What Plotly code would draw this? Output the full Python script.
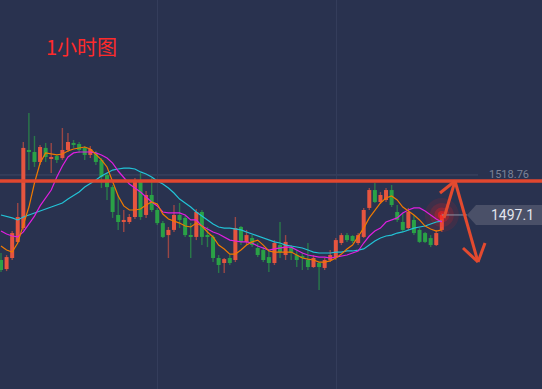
import plotly.graph_objects as go

# ---------------- data ----------------
opens = [1472.7, 1467.8, 1473.8, 1482.5, 1490.0, 1532.3, 1531.2, 1525.8, 1533.4, 1527.9,
         1529.0, 1527.9, 1532.3, 1536.1, 1535.5, 1533.4, 1529.6, 1530.7, 1526.9, 1518.7,
         1512.2, 1497.1, 1493.8, 1493.3, 1496.0, 1516.0, 1497.1, 1507.9, 1499.8, 1492.7,
         1486.2, 1489.0, 1497.1, 1495.5, 1486.2, 1485.2, 1498.7, 1486.2, 1485.2, 1473.8,
         1471.1, 1473.8, 1472.7, 1490.6, 1482.5, 1484.6, 1479.2, 1478.1, 1474.3, 1471.1,
         1480.8, 1475.4, 1479.7, 1475.4, 1474.3, 1472.7, 1468.9, 1471.1, 1468.4, 1472.7,
         1474.3, 1481.9, 1486.2, 1485.7, 1481.9, 1485.2, 1500.9, 1510.6, 1504.1, 1505.2,
         1510.6, 1498.7, 1493.3, 1490.0, 1494.4, 1489.0, 1487.3, 1484.6, 1480.8, 1489.0]
highs = [1476.5, 1475.4, 1488.4, 1503.6, 1536.6, 1552.3, 1539.9, 1535.0, 1536.1, 1536.1,
         1529.6, 1544.2, 1541.5, 1537.7, 1536.6, 1534.4, 1534.4, 1531.7, 1527.9, 1519.8,
         1513.3, 1507.9, 1499.8, 1497.6, 1517.1, 1519.8, 1510.1, 1517.1, 1500.9, 1493.8,
         1490.6, 1502.5, 1503.6, 1496.5, 1492.7, 1500.3, 1499.8, 1490.6, 1486.2, 1475.4,
         1473.8, 1475.4, 1496.0, 1491.1, 1489.0, 1486.2, 1481.9, 1479.7, 1478.1, 1483.5,
         1493.3, 1486.2, 1480.8, 1478.1, 1477.0, 1481.9, 1475.4, 1471.6, 1473.8, 1478.1,
         1484.6, 1487.3, 1487.3, 1486.2, 1487.3, 1500.9, 1511.7, 1514.4, 1509.5, 1511.7,
         1513.3, 1502.5, 1498.2, 1500.9, 1497.1, 1490.0, 1487.9, 1486.2, 1489.0, 1498.2]
lows = [1466.2, 1466.7, 1472.7, 1481.9, 1489.0, 1521.4, 1523.1, 1524.2, 1525.8, 1519.8,
        1525.2, 1526.9, 1531.2, 1533.4, 1530.7, 1526.9, 1527.9, 1524.2, 1511.7, 1505.2,
        1495.5, 1489.0, 1487.9, 1492.2, 1494.9, 1494.4, 1495.5, 1498.7, 1491.7, 1484.6,
        1473.8, 1487.9, 1490.0, 1485.2, 1473.8, 1483.5, 1480.8, 1479.7, 1471.6, 1465.7,
        1465.7, 1470.0, 1471.6, 1480.8, 1480.8, 1479.7, 1474.3, 1471.6, 1466.2, 1470.0,
        1473.8, 1472.7, 1472.7, 1468.9, 1467.3, 1467.3, 1468.4, 1456.5, 1467.3, 1471.6,
        1472.7, 1480.8, 1482.5, 1481.9, 1480.8, 1484.6, 1499.8, 1503.6, 1503.0, 1504.1,
        1501.4, 1493.3, 1487.9, 1489.0, 1486.2, 1481.9, 1481.9, 1479.7, 1480.3, 1487.9]
closes = [1467.3, 1474.3, 1487.3, 1496.0, 1533.4, 1531.2, 1525.8, 1533.9, 1528.5, 1528.5,
          1526.9, 1532.3, 1536.6, 1535.0, 1532.3, 1529.6, 1532.8, 1525.8, 1517.7, 1512.2,
          1498.7, 1493.3, 1494.4, 1496.0, 1516.0, 1496.0, 1507.9, 1499.8, 1492.7, 1485.2,
          1489.0, 1497.1, 1494.4, 1486.2, 1485.2, 1498.7, 1485.2, 1485.2, 1473.8, 1470.0,
          1473.2, 1471.1, 1490.0, 1482.5, 1486.2, 1480.8, 1475.4, 1472.7, 1471.1, 1481.9,
          1477.0, 1482.5, 1476.5, 1472.7, 1473.8, 1468.9, 1473.8, 1468.9, 1472.7, 1475.4,
          1483.5, 1486.2, 1483.5, 1483.0, 1486.2, 1499.8, 1510.6, 1504.1, 1507.9, 1510.6,
          1502.5, 1494.4, 1489.0, 1498.7, 1487.3, 1482.5, 1482.5, 1480.8, 1487.3, 1497.1]

ma_fast = [1480.3, 1478.1, 1477.0, 1481.9, 1491.7, 1501.4, 1514.4, 1525.2, 1530.7, 1530.1,
           1529.6, 1530.1, 1531.7, 1532.8, 1533.4, 1533.9, 1532.8, 1530.1, 1526.9, 1523.1,
           1515.0, 1507.4, 1502.0, 1499.8, 1499.8, 1500.3, 1502.5, 1504.1, 1503.0, 1497.6,
           1494.9, 1493.8, 1492.7, 1491.1, 1490.6, 1492.7, 1491.1, 1487.9, 1485.2, 1480.8,
           1478.7, 1475.9, 1475.9, 1478.1, 1480.8, 1482.5, 1483.5, 1480.8, 1477.6, 1477.0,
           1477.0, 1477.0, 1477.0, 1475.4, 1473.8, 1473.2, 1472.7, 1471.6, 1471.6, 1472.2,
           1473.8, 1475.9, 1478.7, 1480.8, 1485.2, 1490.0, 1495.5, 1499.8, 1503.6, 1506.3,
           1507.4, 1505.2, 1501.4, 1499.2, 1497.1, 1494.4, 1491.1, 1489.5, 1488.4, 1489.0]
ma_mid = [1488.4, 1486.8, 1485.7, 1485.2, 1487.9, 1492.2, 1496.5, 1502.0, 1506.3, 1510.6,
          1517.7, 1523.6, 1528.5, 1530.7, 1531.2, 1531.2, 1531.2, 1530.7, 1529.6, 1527.9,
          1525.2, 1520.9, 1517.1, 1513.9, 1511.7, 1509.5, 1506.8, 1504.1, 1502.0, 1498.7,
          1498.2, 1498.2, 1498.2, 1497.1, 1494.4, 1494.4, 1491.1, 1489.5, 1487.9, 1486.8,
          1485.2, 1483.5, 1483.0, 1482.5, 1482.5, 1481.9, 1480.3, 1479.2, 1478.1, 1478.7,
          1479.2, 1479.7, 1479.7, 1478.1, 1476.5, 1475.4, 1474.9, 1474.3, 1474.3, 1473.8,
          1474.3, 1474.9, 1475.4, 1476.5, 1477.6, 1481.9, 1485.7, 1488.4, 1490.0, 1493.3,
          1494.4, 1495.5, 1498.2, 1499.8, 1500.9, 1500.9, 1499.2, 1497.1, 1494.9, 1493.3]
ma_slow = [1497.1, 1496.5, 1495.5, 1494.4, 1496.0, 1497.1, 1498.2, 1499.2, 1500.3, 1501.4,
           1502.5, 1503.6, 1505.7, 1507.4, 1509.5, 1512.2, 1513.9, 1516.0, 1518.2, 1519.8,
           1521.4, 1522.0, 1522.5, 1522.5, 1522.0, 1520.4, 1519.3, 1517.7, 1515.5, 1513.9,
           1511.7, 1509.0, 1505.7, 1503.6, 1501.4, 1498.7, 1496.5, 1494.4, 1492.2, 1490.6,
           1490.0, 1490.0, 1489.5, 1489.0, 1487.9, 1486.8, 1485.7, 1484.6, 1483.5, 1482.5,
           1481.9, 1480.8, 1480.3, 1479.7, 1479.2, 1478.1, 1477.0, 1476.5, 1476.5, 1476.5,
           1477.0, 1477.0, 1477.6, 1477.6, 1478.1, 1478.7, 1480.8, 1483.0, 1484.6, 1485.7,
           1486.2, 1487.3, 1487.9, 1489.0, 1490.0, 1490.6, 1491.1, 1492.2, 1493.3, 1493.8]

level_label = 1518.76      # grey level shown at right
resistance = 1515.5        # thick red drawn line
title_text = "1小时图"

# ---------------- styling / layout ----------------
W, H = 542, 389
BG = "#29324f"
RED, GREEN = "#e6553f", "#2aa146"
RED_W, GREEN_W = "rgba(230,85,63,0.6)", "rgba(42,161,70,0.65)"
X_RANGE = [-0.18, 96.95]
Y_RANGE = [1402.86, 1613.5]
GRID_X = [27.96, 60.2]


def px(x):
    return x / W


def py(y):
    return 1 - y / H


idx = list(range(len(opens)))
up = [c >= o for o, c in zip(opens, closes)]

fig = go.Figure()
fig.add_trace(go.Bar(
    x=idx, y=[h - l for h, l in zip(highs, lows)], base=lows, width=0.25,
    marker=dict(color=[RED_W if u else GREEN_W for u in up], line=dict(width=0)),
    hoverinfo="skip"))
fig.add_trace(go.Bar(
    x=idx, y=[max(abs(c - o), 0.6) for o, c in zip(opens, closes)],
    base=[min(o, c) for o, c in zip(opens, closes)], width=0.72,
    marker=dict(color=[RED if u else GREEN for u in up], line=dict(width=0)),
    hoverinfo="skip"))

# glow at last price
for s, a in [(34, 0.10), (24, 0.16), (15, 0.28), (8, 0.5)]:
    fig.add_trace(go.Scatter(x=[idx[-1]], y=[closes[-1]], mode="markers",
                             marker=dict(size=s, color=f"rgba(255,30,30,{a})", line=dict(width=0)),
                             hoverinfo="skip"))

fig.add_trace(go.Scatter(x=idx, y=ma_slow, mode="lines", line=dict(color="#22c3d6", width=1.2)))
fig.add_trace(go.Scatter(x=idx, y=ma_mid, mode="lines", line=dict(color="#e01ee0", width=1.2)))
fig.add_trace(go.Scatter(x=idx, y=ma_fast, mode="lines", line=dict(color="#f07a00", width=1.2)))

shapes = []
# faint grey level line
shapes.append(dict(type="line", xref="paper", yref="y", x0=0, x1=px(478),
                   y0=level_label, y1=level_label, line=dict(color="#3f4864", width=1), layer="below"))
# red resistance line
shapes.append(dict(type="line", xref="paper", yref="y", x0=0, x1=1,
                   y0=resistance, y1=resistance, line=dict(color="#e0472f", width=3.5), layer="above"))
# connector to price tag
shapes.append(dict(type="line", xref="x", yref="y", x0=idx[-1], x1=83.5,
                   y0=closes[-1], y1=closes[-1], line=dict(color="#8e94a6", width=1), layer="above"))
# price tag box
tag = [(467, 215), (476, 205), (542, 205), (542, 225), (476, 225)]
path = "M " + " L ".join(f"{px(a):.5f},{py(b):.5f}" for a, b in tag) + " Z"
shapes.append(dict(type="path", xref="paper", yref="paper", path=path,
                   fillcolor="#4a5068", line=dict(width=0), layer="above"))
# hand-drawn arrows
ARROW = "#e34a2f"
for (a, b), (c, d) in [((444, 218), (455, 181)), ((455, 181), (440, 193)),
                       ((455, 181), (478, 262)), ((463, 248), (478, 262)),
                       ((478, 262), (485, 243))]:
    shapes.append(dict(type="line", xref="paper", yref="paper",
                       x0=px(a), y0=py(b), x1=px(c), y1=py(d),
                       line=dict(color=ARROW, width=3), layer="above"))

annotations = [
    dict(text=title_text, xref="paper", yref="paper", x=px(44), y=py(46.5),
         xanchor="left", yanchor="middle", showarrow=False,
         font=dict(family="Noto Sans CJK SC", size=20, color="#ff2a2a")),
    dict(text=f"{level_label:.2f}", xref="paper", yref="y", x=px(487), y=level_label,
         xanchor="left", yanchor="middle", showarrow=False,
         font=dict(family="Roboto", size=11, color="#7c8398")),
    dict(text=f"{closes[-1]:.1f}", xref="paper", yref="y", x=px(512), y=closes[-1],
         xanchor="center", yanchor="middle", showarrow=False,
         font=dict(family="Roboto", size=14, color="#e2e5ee")),
]

fig.update_layout(
    width=W, height=H, margin=dict(l=0, r=0, t=0, b=0, pad=0),
    paper_bgcolor=BG, plot_bgcolor=BG, barmode="overlay", showlegend=False,
    shapes=shapes, annotations=annotations, hovermode=False,
    xaxis=dict(range=X_RANGE, tickvals=GRID_X, showticklabels=False, showgrid=True,
               gridcolor="#343d5b", gridwidth=1, zeroline=False, showline=False, ticks=""),
    yaxis=dict(range=Y_RANGE, showticklabels=False, showgrid=False, zeroline=False,
               showline=False, ticks=""),
)

fig.write_html("out.html", config={"displayModeBar": False},
               post_script="document.body.style.margin='0';document.body.style.overflow='hidden';")
